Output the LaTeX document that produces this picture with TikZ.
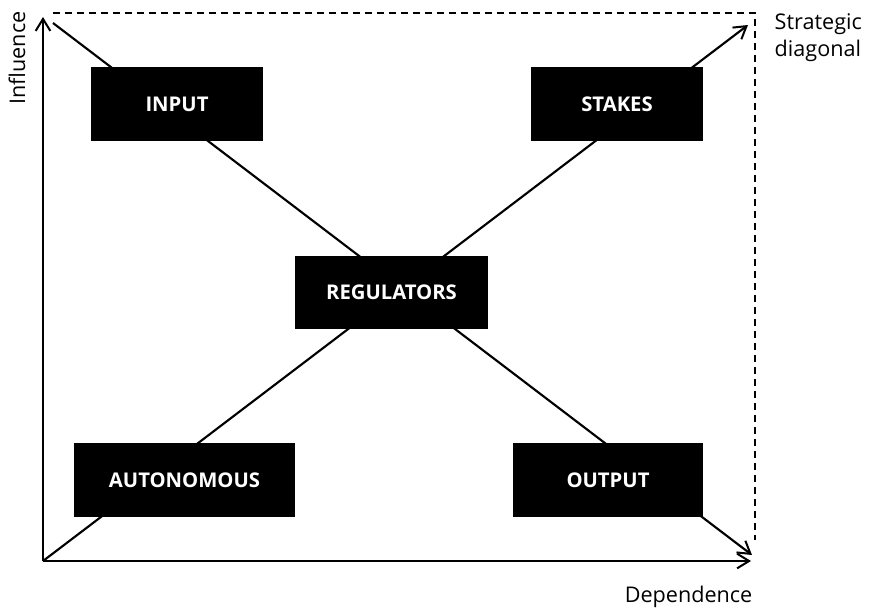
\documentclass[tikz,border=0pt]{standalone}
\usepackage{fontspec}
\setmainfont{Open Sans}
\usetikzlibrary{arrows.meta}
\tikzset{
  quadbox/.style={fill=black, text=white, font=\bfseries\fontsize{15.2}{18}\selectfont, inner sep=0pt},
  axisline/.style={line width=1.6pt, -{Straight Barb[length=9pt,width=11pt,line width=1.5pt]}},
  caption/.style={font=\fontsize{16.2}{20}\selectfont}
}
\begin{document}
\begin{tikzpicture}[x=0.75pt,y=-0.75pt]
    \useasboundingbox (0,0) rectangle (870,612);
    % axes
    \coordinate (origin) at (43,561);
    \coordinate (ytip) at (43,17);
    \coordinate (xtip) at (751,561);
    \draw[axisline](origin) -- (ytip);
    \draw[axisline](origin) -- (xtip);
    % dashed frame
    \coordinate (frameleft) at (53,13);
    \coordinate (framecorner) at (755,13);
    \coordinate (framebottom) at (755,540);
    \draw[line width=1.6pt, dash pattern=on 5.5pt off 3.5pt](frameleft) -- (framecorner) -- (framebottom);
    % diagonals
    \coordinate (stratstart) at (43,561);
    \coordinate (strattip) at (748,25);
    \coordinate (otherstart) at (53,23);
    \coordinate (othertip) at (752,555);
    \draw[axisline](stratstart) -- (strattip);
    \draw[axisline](otherstart) -- (othertip);
    % quadrant boxes
    \node[quadbox, minimum width=129pt, minimum height=55.5pt] (input) at (177,104) {INPUT};
    \node[quadbox, minimum width=129pt, minimum height=55.5pt] (stakes) at (617,104) {STAKES};
    \node[quadbox, minimum width=145pt, minimum height=55pt] (regulators) at (391.5,292.5) {REGULATORS};
    \node[quadbox, minimum width=166pt, minimum height=55.5pt] (autonomous) at (184.5,480) {AUTONOMOUS};
    \node[quadbox, minimum width=142.5pt, minimum height=55.5pt] (output) at (608,480) {OUTPUT};
    % labels
    \node[caption, rotate=90] (influence) at (17,58) {Influence};
    \node[caption, align=left, anchor=north west] (strategic) at (770,9) {Strategic\\diagonal};
    \node[caption, anchor=east] (dependence) at (757,597) {Dependence};
\end{tikzpicture}
\end{document}
